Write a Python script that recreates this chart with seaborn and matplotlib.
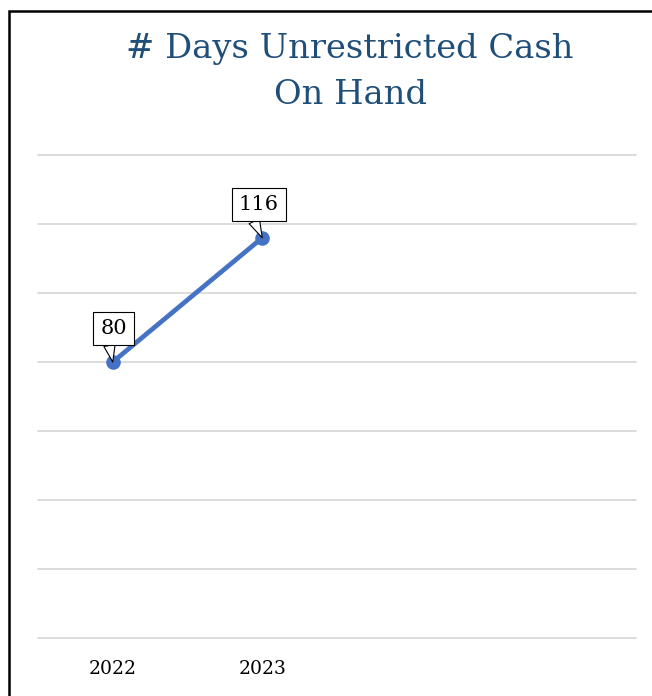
import matplotlib
matplotlib.use("Agg")
import matplotlib.pyplot as plt
import seaborn as sns
import pandas as pd
from matplotlib.patches import Rectangle

years = ["2022", "2023"]
days = [80, 116]
title = "# Days Unrestricted Cash\nOn Hand"

sns.set_theme(style="white")
plt.rcParams['font.family'] = ['DejaVu Serif']

W, H = 652, 696
fig = plt.figure(figsize=(W/100, H/100), dpi=100)
ax = fig.add_axes([38/W, (H-638)/H, 598/W, (638-155)/H])

df = pd.DataFrame({"year": years, "days": days})
sns.lineplot(data=df, x="year", y="days", ax=ax, color="#4472C4", linewidth=3.4,
             marker="o", markersize=10.5, markeredgewidth=0, zorder=3)

ax.set_xlim(-0.5, 3.5)
ax.set_ylim(0, 140)
ax.set_yticks(range(0, 141, 20))
ax.yaxis.grid(True, color="#D9D9D9", linewidth=1.3)
for gl in ax.get_ygridlines():
    gl.set_clip_on(False)
ax.set_axisbelow(True)
for s in ax.spines.values():
    s.set_visible(False)
ax.set_yticklabels([])
ax.tick_params(axis="y", length=0)
ax.tick_params(axis="x", length=0, labelsize=13.5, pad=16, labelcolor="black")
ax.set_xlabel("")
ax.set_ylabel("")

for x, y in zip(years, days):
    ax.annotate(str(y), xy=(x, y), xytext=(0.5 if y < 100 else -2.5, 24), textcoords="offset points",
                ha="center", va="center", fontsize=15, color="black",
                bbox=dict(boxstyle="square,pad=0.33", fc="white", ec="black", lw=0.8),
                arrowprops=dict(arrowstyle="wedge,tail_width=0.55,shrink_factor=0.5",
                                fc="white", ec="black", lw=0.8,
                                shrinkA=0, shrinkB=0,
                                relpos=(0.3, 0.0)),
                zorder=5)

fig.text(350/W, 1-72/H, title, ha="center", va="center", fontsize=24.3,
         color="#1F4E79", linespacing=1.55)

fig.patches.append(Rectangle((9/W, -0.1), 2, 1 - 11/H + 0.1, transform=fig.transFigure,
                             fill=False, ec="black", lw=1.8))

fig.savefig("out.png", dpi=100)
